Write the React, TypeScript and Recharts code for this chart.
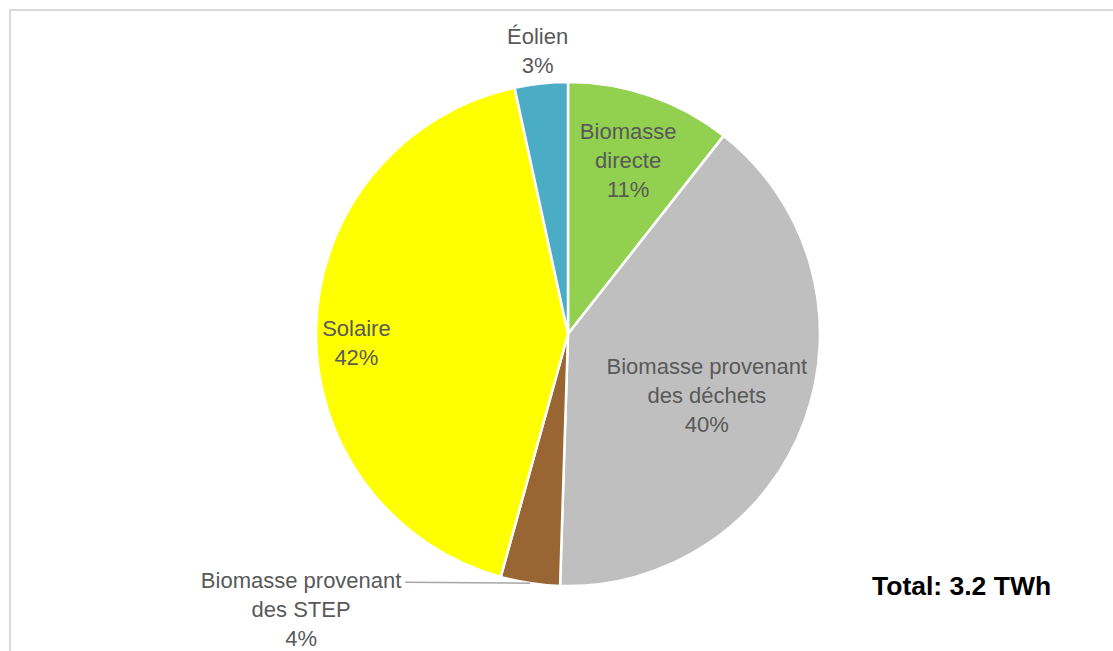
import React from 'react';
import { PieChart, Pie, Cell } from 'recharts';

const categories = [
    'Biomasse directe',
    'Biomasse provenant des déchets',
    'Biomasse provenant des STEP',
    'Solaire',
    'Éolien',
];
const shares = [10.6, 39.9, 3.8, 42.3, 3.4];
const colors = ['#92D050', '#BFBFBF', '#996633', '#FFFF00', '#4BACC6'];
const totalLabel = 'Total: 3.2 TWh';

const data = categories.map((name, i) => ({ name, value: shares[i] }));

// label placement: radius factor for the label block, nudges, max chars per line
const labelLayout = [
    { r: 0.73, dx: 0, dy: 0, wrap: 10 },
    { r: 0.62, dx: -8, dy: 8, wrap: 18 },
    { r: 1.0, dx: 0, dy: 0, wrap: 18, leader: 125 },
    { r: 0.84, dx: 0, dy: 15, wrap: 18 },
    { r: 1.13, dx: 0, dy: 0, wrap: 18 },
];

const RAD = Math.PI / 180;
const LINE_H = 29;
const FONT_SIZE = 22;
const FONT = '"Liberation Sans", Arial, sans-serif';
const W = 1113;
const H = 651;

const wrap = (text: string, max: number) => {
    const lines: string[] = [];
    let cur = '';
    text.split(' ').forEach((w) => {
        if (cur && (cur + ' ' + w).length > max) {
            lines.push(cur);
            cur = w;
        } else {
            cur = cur ? cur + ' ' + w : w;
        }
    });
    if (cur) lines.push(cur);
    return lines;
};

const renderLabel = (props: any) => {
    const { cx, cy, midAngle, outerRadius, percent, index, name } = props;
    const cfg = labelLayout[index];
    const lines = [...wrap(name, cfg.wrap), Math.round(percent * 100) + '%'];
    const px = cx + outerRadius * cfg.r * Math.cos(-midAngle * RAD) + cfg.dx;
    const py = cy + outerRadius * cfg.r * Math.sin(-midAngle * RAD) + cfg.dy;

    if (cfg.leader) {
        const lx = px - cfg.leader;
        const ly = py - 1;
        const tx = lx - 104;
        return (
            <g>
                <path d={`M${px},${py}L${lx},${ly}`} stroke="#A6A6A6" strokeWidth={1.5} fill="none" />
                {lines.map((l, i) => (
                    <text key={i} x={tx} y={ly - 2 + i * LINE_H} textAnchor="middle" dominantBaseline="central"
                        fill="#595959" fontSize={FONT_SIZE} fontFamily={FONT}>{l}</text>
                ))}
            </g>
        );
    }

    const y0 = py - ((lines.length - 1) * LINE_H) / 2;
    return (
        <g>
            {lines.map((l, i) => (
                <text key={i} x={px} y={y0 + i * LINE_H} textAnchor="middle" dominantBaseline="central"
                    fill="#595959" fontSize={FONT_SIZE} fontFamily={FONT}>{l}</text>
            ))}
        </g>
    );
};

export default function App() {
    return (
        <div style={{ position: 'fixed', left: 0, top: 0, width: W, height: H, overflow: 'hidden', background: '#fff' }}>
            <div style={{ position: 'absolute', left: 9, top: 9, width: 2000, height: 2000, border: '2px solid #D9D9D9' }} />
            <PieChart width={W} height={H} margin={{ top: 0, right: 0, bottom: 0, left: 0 }} style={{ position: 'absolute', left: 0, top: 0 }}>
                <Pie
                    data={data}
                    dataKey="value"
                    nameKey="name"
                    cx={568}
                    cy={334}
                    outerRadius={252}
                    startAngle={90}
                    endAngle={-270}
                    stroke="#FFFFFF"
                    strokeWidth={2.5}
                    label={renderLabel}
                    labelLine={false}
                    isAnimationActive={false}
                >
                    {data.map((d, i) => (
                        <Cell key={d.name} fill={colors[i]} />
                    ))}
                </Pie>
            </PieChart>
            <svg width={W} height={H} style={{ position: 'absolute', left: 0, top: 0, pointerEvents: 'none' }}>
                <text x={872} y={595} fontSize={26.5} fontWeight="bold" fontFamily={FONT} fill="#000">{totalLabel}</text>
            </svg>
        </div>
    );
}
